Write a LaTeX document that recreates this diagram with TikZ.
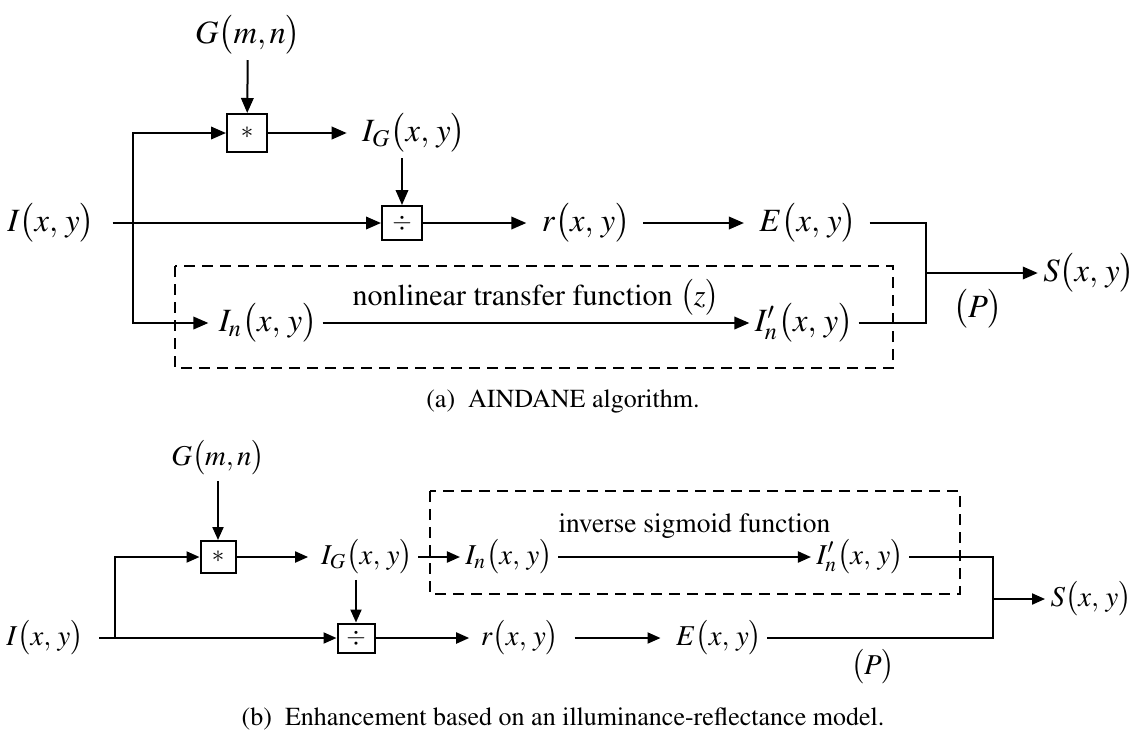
\documentclass[tikz,border=0pt]{standalone}
\usepackage[T1]{fontenc}
\usepackage{mathptmx}
\usetikzlibrary{arrows.meta,calc}

\newcommand{\fxy}[1]{$#1\bigl(x,\,y\bigr)$}

\begin{document}
\begin{tikzpicture}[x=0.4pt,y=-0.4pt,
    every node/.style={inner sep=2pt},
    lab/.style={font=\fontsize{13}{15}\selectfont},
    labb/.style={font=\fontsize{11.5}{14}\selectfont,inner ysep=0pt},
    captxt/.style={font=\fontsize{10.4}{12}\selectfont},
    opbox/.style={draw,line width=0.8pt,inner sep=0pt},
    arr/.style={-{Triangle[length=6pt,width=5pt]},line width=0.8pt},
    arrb/.style={-{Triangle[length=5.2pt,width=4.4pt]},line width=0.8pt},
    wire/.style={line width=0.8pt},
    dashbox/.style={line width=0.8pt,dash pattern=on 4.4pt off 2.8pt}
]
\useasboundingbox (0,0) rectangle (1142,736);

% (a) AINDANE
\node[lab,inner ysep=0pt] (Ga) at (248,35) {$G\bigl(m,n\bigr)$};
\node[opbox,minimum width=16pt,minimum height=15.2pt] (conva) at (247,133) {$*$};
\node[lab] (IGa) at (414,133) {\fxy{I_G}};
\node[lab] (Ia) at (51,223) {\fxy{I}};
\node[opbox,minimum width=16pt,minimum height=13.6pt] (diva) at (402,223) {$\div$};
\node[lab] (ra) at (586,223) {\fxy{r}};
\node[lab] (Ea) at (808,223) {\fxy{E}};
\node[lab] (Ina) at (268,323) {\fxy{I_n}};
\node[lab] (Ipa) at (804,323) {\fxy{I'_n}};
\node[lab] (Sa) at (1089,273) {\fxy{S}};
\node[lab] (Pa) at (978,309) {$\bigl(P\bigr)$};
\coordinate (spa) at (133,223);
\coordinate (mxa) at (926,273);

\draw[arr,shorten <=2pt] (Ga) -- (conva);
\draw[arr,shorten >=4pt] (conva) -- (IGa);
\draw[arr] (IGa.south -| diva) -- (diva);
\draw[arr,shorten <=5pt] (Ia) -- (diva);
\draw[arr] (spa) |- (conva);
\draw[arr,shorten >=2pt] (spa) |- (Ina);
\draw[arr,shorten >=4pt] (diva) -- (ra);
\draw[arr,shorten <=3pt,shorten >=4pt] (ra) -- (Ea);
\draw[arr] (Ina) -- node[above=0.6pt,font=\fontsize{12}{14}\selectfont] (tfa) {nonlinear transfer function $\bigl(z\bigr)$} (Ipa);
\draw[wire,shorten <=3pt] (Ea) -| (mxa);
\draw[wire] (Ipa) -| (mxa);
\draw[arr] (mxa) -- (Sa);
\draw[dashbox] (175,266) rectangle (893,368);
\node[captxt] (capa) at (563,401) {(a)\hspace{0.5em}AINDANE algorithm.};

% (b) illuminance-reflectance
\node[labb] (Gb) at (218,458) {$G\bigl(m,n\bigr)$};
\node[opbox,minimum width=14pt,minimum height=12.8pt] (convb) at (218,557) {$*$};
\node[labb] (IGb) at (367,557) {\fxy{I_G}};
\node[labb] (Ib) at (45,638) {\fxy{I}};
\node[opbox,minimum width=14.8pt,minimum height=11.6pt] (divb) at (356,638) {$\div$};
\node[labb] (rb) at (520,638) {\fxy{r}};
\node[labb] (Eb) at (719,638) {\fxy{E}};
\node[labb] (Inb) at (509,557) {\fxy{I_n}};
\node[labb] (Ipb) at (860,557) {\fxy{I'_n}};
\node[labb] (Sb) at (1091,599) {\fxy{S}};
\node[labb] (Pb) at (873,667) {$\bigl(P\bigr)$};
\coordinate (spb) at (115,638);
\coordinate (mxb) at (993,599);

\draw[arrb,shorten <=2pt] (Gb) -- (convb);
\draw[arrb] (spb) |- (convb);
\draw[arrb,shorten <=4pt] (Ib) -- (divb);
\draw[arrb,shorten >=3pt] (convb) -- (IGb);
\draw[arrb,shorten <=2pt] (IGb.south -| divb) -- (divb);
\draw[arrb] (IGb) -- (Inb);
\draw[arrb,shorten >=2.5pt] (divb) -- (rb);
\draw[arrb,shorten <=4pt,shorten >=4pt] (rb) -- (Eb);
\draw[arrb] (Inb) -- node[above=6pt,xshift=4pt,inner sep=1pt,font=\fontsize{11}{13}\selectfont] (tfb) {inverse sigmoid function} (Ipb);
\draw[wire] (Ipb) -| (mxb);
\draw[wire] (Eb) -| (mxb);
\draw[arrb] (mxb) -- (Sb);
\draw[dashbox] (430,491) rectangle (960,594);
\node[captxt] (capb) at (563,719) {(b)\hspace{0.5em}Enhancement based on an illuminance-reflectance model.};
\end{tikzpicture}
\end{document}
